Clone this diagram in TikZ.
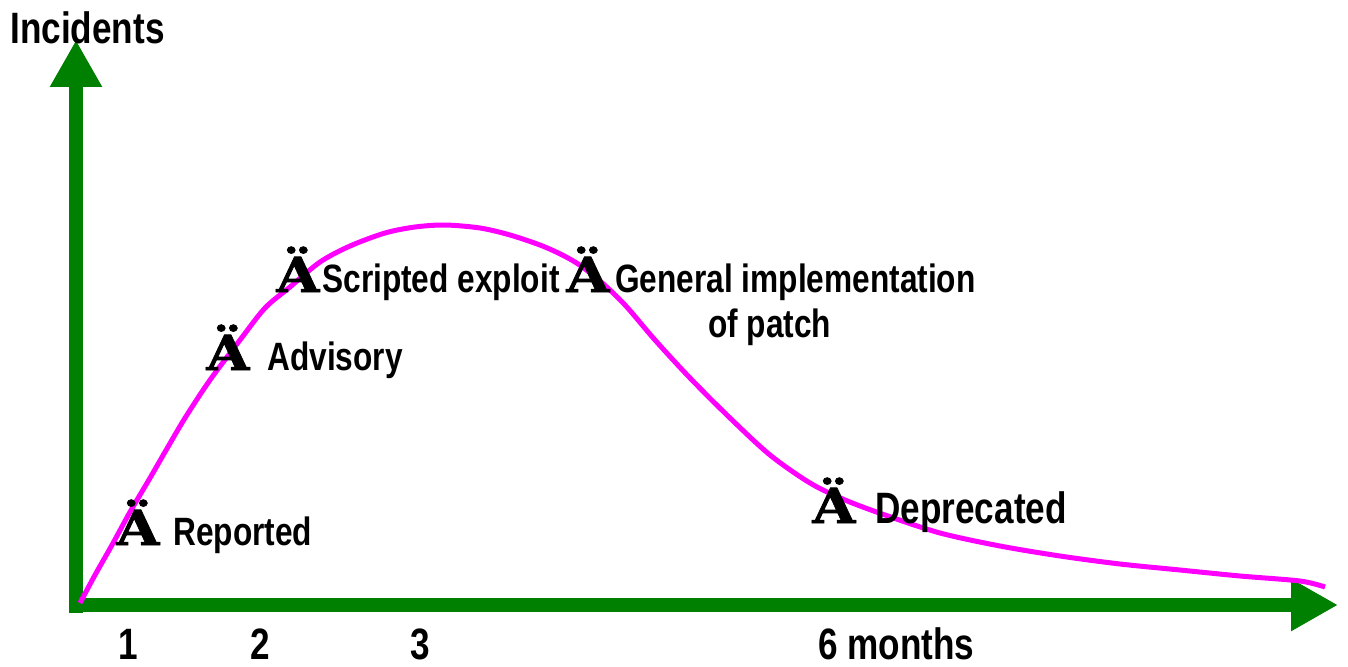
\documentclass[tikz,border=0pt]{standalone}
\usepackage{fontspec}
\usetikzlibrary{arrows.meta}
\setmainfont{Liberation Sans}
\newfontfamily\labelfont[FakeStretch=0.8]{Liberation Sans}
\newfontfamily\bangfont[FakeStretch=1.15,FakeBold=1.5]{DejaVu Serif}
\definecolor{axisgreen}{RGB}{0,128,0}
\definecolor{trendpink}{RGB}{255,0,255}
\begin{document}
\begin{tikzpicture}[x=0.02cm,y=-0.02cm,
  axis/.style={line width=0.28cm,draw=axisgreen,-{Triangle[length=0.94cm,width=0.98cm,fill=axisgreen]}},
  trend/.style={line width=0.1cm,draw=trendpink},
  bang/.style={anchor=base west,inner sep=0pt,font=\bangfont\bfseries\fontsize{27.5pt}{30pt}\selectfont},
  lbl/.style={anchor=base west,inner sep=0pt,font=\labelfont\bfseries\fontsize{22.5pt}{26pt}\selectfont},
  biglbl/.style={lbl,font=\labelfont\bfseries\fontsize{25pt}{30pt}\selectfont},
  tick/.style={biglbl,anchor=base}]
\useasboundingbox (0,0) rectangle (1348,666);
\coordinate (Ob) at (76,613);
\coordinate (Ol) at (69,605);
\coordinate (Y) at (76,40);
\coordinate (X) at (1338,605);
% axes
\draw[axis] (Ob) -- (Y);
\draw[axis] (Ol) -- (X);
% incident curve
\draw[trend] plot[smooth,tension=0.5] coordinates {(80,603) (95,575) (112,545) (130,512) (150,478) (165,452) (185,418) (210,380) (240,340) (265,308) (290,287) (320,262) (350,246) (385,233) (415,227) (445,225) (480,228) (510,235) (545,247) (575,262) (600,281) (625,305) (655,340) (690,378) (730,418) (770,455) (810,483) (845,500) (885,515) (940,533) (1000,546) (1060,556) (1120,564) (1180,570) (1240,576) (1300,581) (1325,587)};
\node[biglbl] (inc) at (10,43) {Incidents};
% events
\node[bang] (b1) at (116,545) {Ä};
\node[lbl] (reported) at (173,545) {Reported};
\node[bang] (b2) at (206,370) {Ä};
\node[lbl] (advisory) at (267,370) {Advisory};
\node[bang] (b3) at (276,292) {Ä};
\node[lbl] (scripted) at (322,292) {Scripted exploit};
\node[bang] (b4) at (566,292) {Ä};
\node[lbl] (general) at (615,292) {General implementation};
\node[lbl] (patch) at (708,337) {of patch};
\node[bang] (b5) at (812,523) {Ä};
\node[biglbl] (deprecated) at (875,523) {Deprecated};
% time
\node[tick] (t1) at (128,659) {1};
\node[tick] (t2) at (260,659) {2};
\node[tick] (t3) at (420,659) {3};
\node[biglbl] (t6) at (818,659) {6 months};
\end{tikzpicture}
\end{document}
